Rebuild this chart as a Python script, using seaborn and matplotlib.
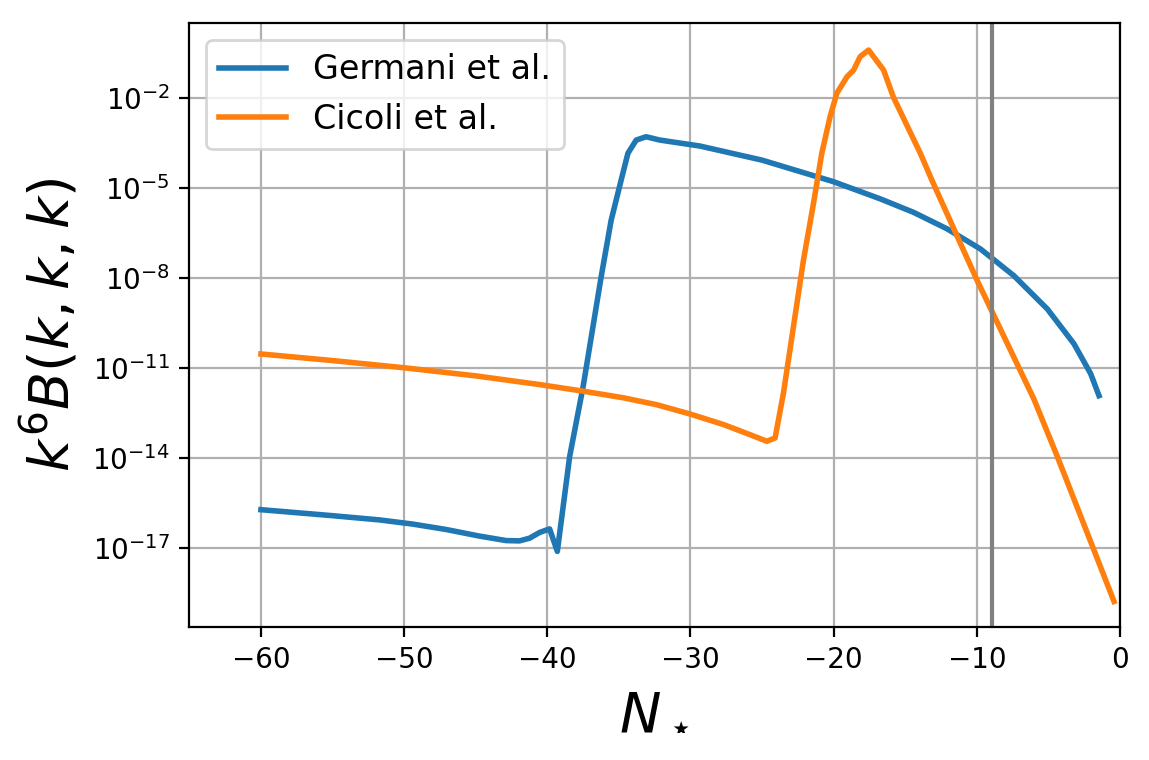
# Bispectrum k^6 B(k,k,k) against N_star for the two models

import matplotlib
matplotlib.use("Agg")
import matplotlib.pyplot as plt
import pandas as pd
import numpy as np
import seaborn as sns

# Germani et al. -- N_star and log10 of k^6 B
germani_n = [-60, -55, -51.74, -49.4, -47.07, -44.74, -42.87, -41.94, -41.24, -40.54,
             -39.84, -39.3, -38.44, -37.5, -36.24, -35.54, -34.84, -34.37, -33.79, -33.1,
             -32.15, -29.34, -25, -20, -16.75, -14.42, -12.08, -9.75, -7.42, -5.08,
             -3.22, -2.05, -1.47]
germani_log = [-15.72, -15.92, -16.06, -16.2, -16.38, -16.6, -16.75, -16.76, -16.67, -16.48,
               -16.36, -17.11, -13.95, -11.62, -7.96, -6.07, -4.73, -3.84, -3.4, -3.29,
               -3.4, -3.6, -4.07, -4.79, -5.36, -5.81, -6.36, -7.03, -7.92, -9.03,
               -10.19, -11.19, -11.92]

# Cicoli et al.
cicoli_n = [-60, -55, -50, -45, -40.54, -37.5, -34.7, -32.37, -30.04, -27.71, -25.84,
            -24.67, -24.09, -23.51, -22.81, -22.11, -21.41, -20.83, -20.25, -19.78, -19.07,
            -18.61, -18.15, -17.56, -16.51, -15.83, -13.94, -13.13, -9.98, -6.02, -4.38,
            -2, -0.42]
cicoli_log = [-10.53, -10.75, -10.99, -11.26, -11.55, -11.77, -11.99, -12.22, -12.53, -12.88,
              -13.22, -13.44, -13.33, -11.84, -9.62, -7.4, -5.51, -3.84, -2.62, -1.84, -1.29,
              -1.07, -0.62, -0.4, -1.07, -1.97, -3.85, -4.75, -8.08, -12.03, -13.95, -16.85,
              -18.78]

labels = ["Germani et al.", "Cicoli et al."]
n_vline = -8.93

df = pd.concat([
    pd.DataFrame({"N": germani_n, "B": 10.0 ** np.array(germani_log), "model": labels[0]}),
    pd.DataFrame({"N": cicoli_n, "B": 10.0 ** np.array(cicoli_log), "model": labels[1]}),
])

fig, ax = plt.subplots(figsize=(5.745, 3.8), dpi=200)
sns.lineplot(data=df, x="N", y="B", hue="model", palette=["#1f77b4", "#ff7f0e"],
             linewidth=2, estimator=None, sort=False, ax=ax)
ax.axvline(n_vline, color="gray", linewidth=1.5)

ax.set_yscale("log")
ax.set_xlim(-65, 0)
ax.set_ylim(10 ** -19.62, 10 ** 0.49)
ax.set_yticks([1e-17, 1e-14, 1e-11, 1e-8, 1e-5, 1e-2])
ax.yaxis.set_minor_locator(matplotlib.ticker.NullLocator())
ax.grid(True, color="#b0b0b0", linewidth=0.8)

ax.set_xlabel(r"$N_\star$", fontsize=20)
ax.set_ylabel(r"$k^6B(k,k,k)$", fontsize=20)
handles, labs = ax.get_legend_handles_labels()
ax.legend(handles, labs, loc="upper left", fontsize=12)

plt.subplots_adjust(left=0.1648, right=0.9748, bottom=0.1754, top=0.9693)
plt.savefig("out.png", dpi=200)
